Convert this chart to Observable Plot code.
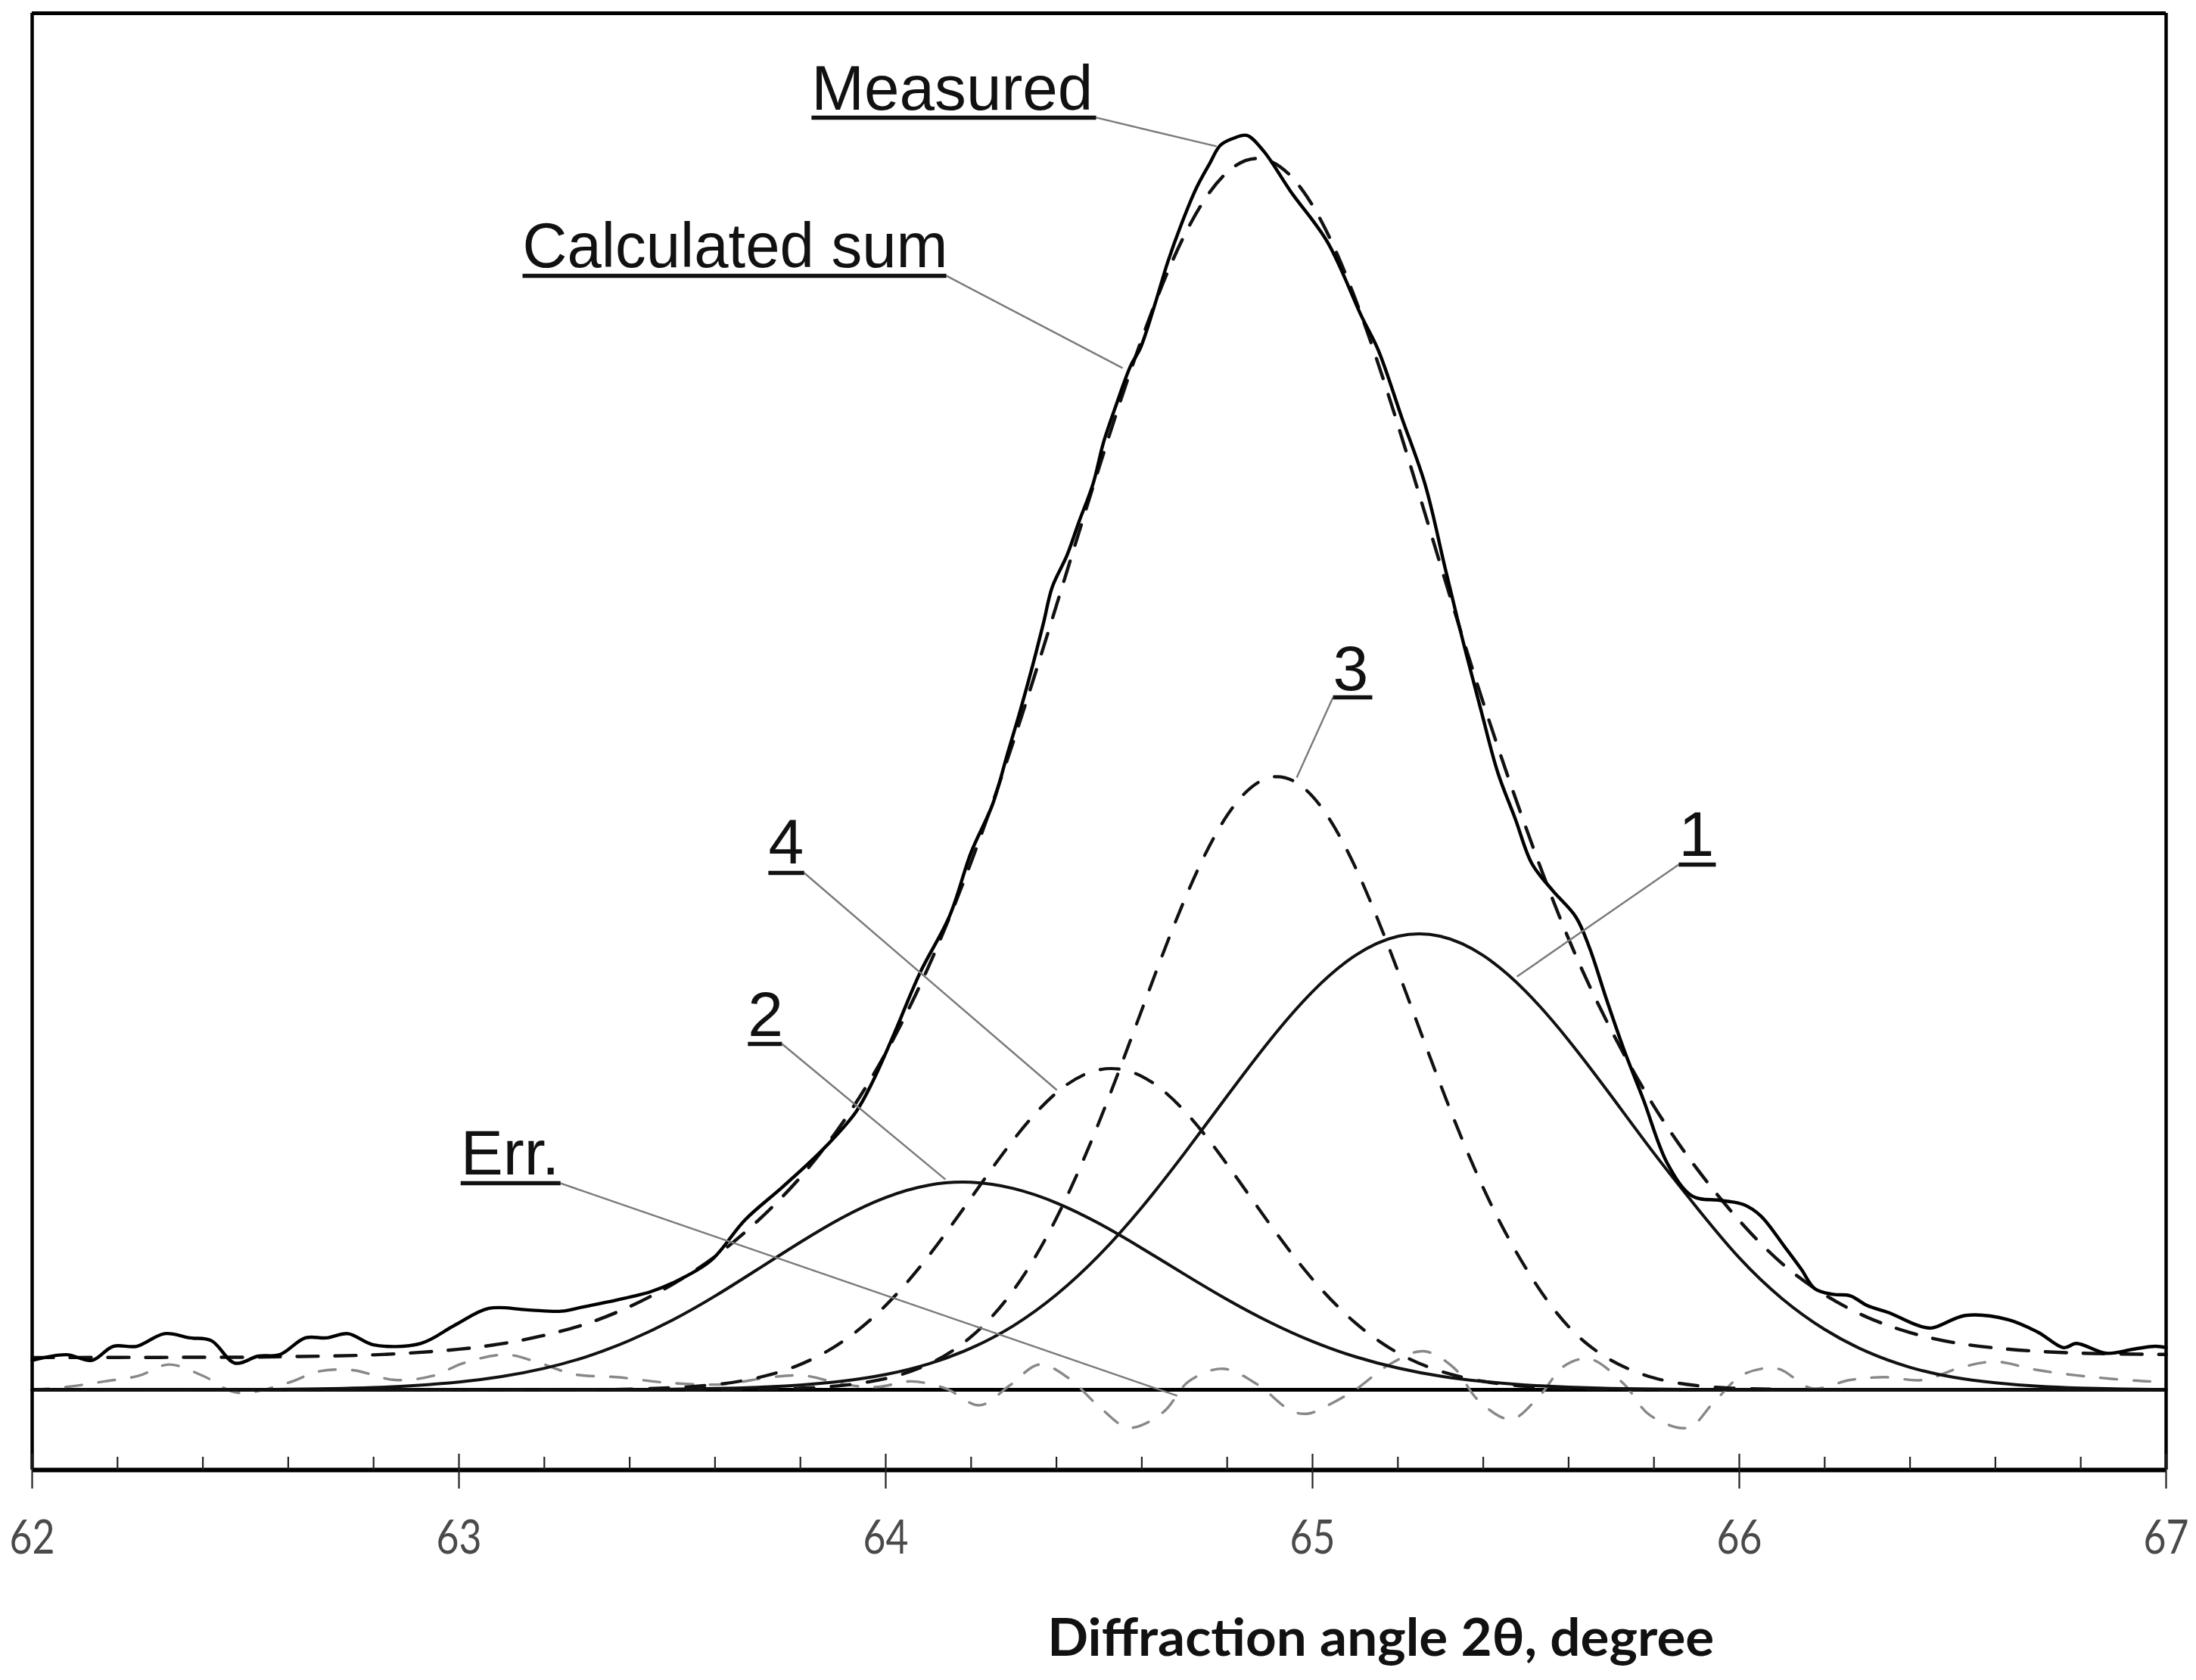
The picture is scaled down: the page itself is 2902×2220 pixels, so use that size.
<!DOCTYPE html>
<html>
<head>
<meta charset="utf-8">
<script src="https://cdn.jsdelivr.net/npm/d3@7"></script>
<script src="https://cdn.jsdelivr.net/npm/@observablehq/plot@0.6"></script>
<style>
  html, body { margin: 0; padding: 0; background: #fff; }
  #chart svg { display: block; }
</style>
</head>
<body>
<div id="chart"></div>
<script>
// ---------- data ----------
const gridX = [62.0,62.1,62.2,62.3,62.4,62.5,62.6,62.7,62.8,62.9,
               63.0,63.1,63.2,63.3,63.4,63.5,63.6,63.7,63.8,63.9,
               64.0,64.1,64.2,64.3,64.4,64.5,64.6,64.7,64.8,64.9,
               65.0,65.1,65.2,65.3,65.4,65.5,65.6,65.7,65.8,65.9,
               66.0,66.1,66.2,66.3,66.4,66.5,66.6,66.7,66.8,66.9,67.0];

const component1 = [0,0,0,0,0,0,0,0,0,0,0,0,0,0,0,
  0.04,0.09,0.18,0.34,0.62,1.09,1.84,2.97,4.58,6.78,9.59,13.0,16.86,20.94,24.91,
  28.38,30.95,32.32,32.32,30.95,28.38,24.91,20.94,16.86,13.0,9.4,6.5,4.3,2.7,1.6,
  0.9,0.5,0.25,0.12,0.05,0.02];

const component2 = [0,0,0,0,0,0,
  0.04,0.08,0.16,0.31,0.55,0.94,1.53,2.37,3.52,4.96,
  6.68,8.59,10.52,12.30,13.71,14.58,14.79,14.34,13.32,11.85,
  10.09,8.23,6.43,4.81,3.44,2.36,1.55,0.97,0.59,0.34,
  0.19,0.10,0.05,0.02,
  0,0,0,0,0,0,0,0,0,0,0];

const component3 = [0,0,0,0,0,0,0,0,0,0,0,0,0,0,0,0,0,
  0.04,0.11,0.32,0.80,1.82,3.78,7.13,12.24,19.09,27.08,34.92,40.94,43.64,
  42.29,37.26,29.84,21.73,14.39,8.66,4.5,2.1,0.85,0.3,0.1,0.03,
  0,0,0,0,0,0,0,0,0];

const component4 = [0,0,0,0,0,0,0,0,0,0,0,0,0,0,
  0.05,0.15,0.37,0.86,1.81,3.46,6.02,9.52,13.68,17.85,21.17,22.81,
  22.34,19.87,16.06,11.80,7.88,4.78,2.63,1.32,0.60,0.25,0.10,0.04,
  0,0,0,0,0,0,0,0,0,0,0,0,0];

const calculatedSum = [2.30,2.30,2.31,2.31,2.32,2.32,2.36,2.41,2.49,2.65,
  2.89,3.28,3.88,4.72,5.93,7.51,9.50,12.04,15.15,19.08,
  24.00,30.14,37.61,46.29,55.91,65.74,74.91,82.29,86.78,87.58,
  84.41,77.77,68.77,58.77,48.97,40.07,32.14,25.63,20.21,15.78,
  12.06,9.0,6.77,5.17,4.08,3.38,2.98,2.74,2.61,2.55,2.52];

const measuredX = [62.00,62.08,62.14,62.19,62.245,62.31,62.37,62.42,62.475,62.53,62.58,62.64,62.69,62.74,62.80,62.91,62.99,
  63.07,63.16,63.24,63.29,63.37,63.45,63.50,63.59,63.67,63.76,63.855,63.93,63.97,
  64.02,64.08,64.15,64.20,64.25,64.285,64.316,64.344,64.37,64.39,64.425,64.452,64.486,64.51,64.54,64.574,64.596,64.628,64.661,64.693,64.727,64.759,64.784,64.815,64.846,64.885,64.949,
  65.035,65.115,65.154,65.209,65.264,65.312,65.353,65.395,65.434,65.475,65.514,65.562,65.617,65.649,65.688,65.729,65.775,65.832,65.89,65.955,
  66.01,66.05,66.106,66.145,66.177,66.22,66.26,66.30,66.35,66.417,66.45,66.53,66.63,66.70,66.76,66.79,66.86,66.925,66.975,67.00];
const measuredY = [2.1,2.5,2.1,3.1,3.1,4.0,3.7,3.5,1.9,2.4,2.5,3.7,3.7,4.0,3.2,3.3,4.6,
  5.8,5.7,5.6,5.9,6.4,7.0,7.6,9.2,12.1,14.5,17.2,19.8,22.0,
  25.4,29.7,33.8,38.3,41.7,45.3,48.5,51.6,54.7,57.2,59.5,61.8,64.6,67.5,70.2,73.0,74.2,77.1,80.4,83.1,85.6,87.4,88.7,89.2,89.4,88.3,85.4,
  81.8,76.5,74.1,69.3,64.5,58.4,53.3,48.4,44.0,40.7,37.5,35.6,33.7,31.5,27.9,24.3,20.7,16.1,13.8,13.5,
  13.2,12.4,10.2,8.6,7.2,6.8,6.7,6.0,5.5,4.6,4.4,5.3,5.0,4.1,3.0,3.3,2.6,2.9,3.1,3.0];

const errX = [62.00,62.08,62.17,62.25,62.32,62.40,62.48,62.60,62.67,62.75,62.85,62.94,
  63.01,63.11,63.19,63.27,63.37,63.49,63.62,63.73,63.81,63.90,63.98,
  64.06,64.14,64.22,64.29,64.36,64.43,64.50,64.57,64.65,64.71,64.79,64.87,64.95,64.99,
  65.03,65.10,65.18,65.26,65.33,65.39,65.465,65.53,65.59,65.65,65.73,65.79,65.88,65.94,
  66.01,66.09,66.17,66.26,66.34,66.43,66.52,66.60,66.70,66.83,66.96,67.00];
const errY = [0.0,0.2,0.6,1.0,1.8,1.0,-0.2,0.5,1.3,1.4,0.7,1.0,
  1.9,2.5,1.9,1.1,0.9,0.5,0.4,0.9,1.0,0.4,0.2,
  0.6,0.1,-1.1,0.3,1.8,0.8,-1.2,-2.7,-1.6,0.6,1.5,0.4,-1.5,-1.7,
  -1.2,0.0,1.8,2.75,1.6,-0.8,-2.1,-0.5,1.7,2.2,0.4,-1.8,-2.7,-0.9,
  1.1,1.5,0.1,0.7,0.9,0.7,1.6,2.0,1.4,0.9,0.6,0.6];

const majorTicks = [62, 63, 64, 65, 66, 67];
const minorTicks = [62.2,62.4,62.6,62.8,63.2,63.4,63.6,63.8,64.2,64.4,64.6,64.8,
                    65.2,65.4,65.6,65.8,66.2,66.4,66.6,66.8];

// annotation labels (text, baseline position, underline extent, leader to curve)
const labelText = ["Measured", "Calculated sum", "3", "1", "4", "2", "Err."];
const labelX    = [63.826, 63.149, 65.048, 65.858, 63.725, 63.677, 63.004];
const labelY    = [91.26, 80.04, 49.84, 38.03, 37.49, 25.24, 15.37];
const underX2   = [64.493, 64.142, 65.140, 65.945, 63.809, 63.757, 63.238];
const underY    = [90.67, 79.40, 49.35, 37.43, 36.84, 24.65, 14.72];
const leaderX1  = [64.493, 64.142, 65.048, 65.858, 63.809, 63.757, 63.238];
const leaderX2  = [64.775, 64.555, 64.963, 65.479, 64.401, 64.140, 64.683];
const leaderY2  = [88.62, 72.82, 43.64, 29.45, 21.36, 14.99, -0.43];

const axisTitle = "Diffraction angle 2θ, degree";
const axisTitleX = 65.16;

// ---------- layout ----------
const W = 2902, H = 2220;
const mL = 42, mR = 40, mT = 17, mB = 278;
const yMin = -5.717, yMax = 98.11;
const pxPerUnit = (H - mT - mB) / (yMax - yMin);

const comps = gridX.map((x, i) => ({x, c1: component1[i], c2: component2[i], c3: component3[i], c4: component4[i], sum: calculatedSum[i]}));
const measured = measuredX.map((x, i) => ({x, y: measuredY[i]}));
const err = errX.map((x, i) => ({x, y: errY[i]}));
const labels = labelText.map((t, i) => ({t, x: labelX[i], y: labelY[i], ux2: underX2[i], uy: underY[i],
  lx1: leaderX1[i], ly1: underY[i], lx2: leaderX2[i], ly2: leaderY2[i]}));

const labelFont = "'Liberation Sans', Arial, sans-serif";
const tickFont = "Lato, 'Liberation Sans Narrow', 'DejaVu Sans Condensed', sans-serif";

const chart = Plot.plot({
  width: W, height: H,
  marginLeft: mL, marginRight: mR, marginTop: mT, marginBottom: mB,
  x: {domain: [62, 67], axis: null},
  y: {domain: [yMin, yMax], axis: null},
  style: {background: "#fff", fontFamily: labelFont, overflow: "visible"},
  marks: [
    // zero line
    Plot.ruleY([0], {stroke: "#000", strokeWidth: 5}),
    // error curve
    Plot.line(err, {x: "x", y: "y", curve: "catmull-rom", stroke: "#888", strokeWidth: 3.4, strokeDasharray: "22,22"}),
    // components
    Plot.line(comps, {x: "x", y: "c1", curve: "natural", stroke: "#111", strokeWidth: 4}),
    Plot.line(comps, {x: "x", y: "c2", curve: "natural", stroke: "#111", strokeWidth: 4}),
    Plot.line(comps, {x: "x", y: "c3", curve: "natural", stroke: "#111", strokeWidth: 4.2, strokeDasharray: "25,23"}),
    Plot.line(comps, {x: "x", y: "c4", curve: "natural", stroke: "#111", strokeWidth: 4.2, strokeDasharray: "25,23"}),
    // calculated sum
    Plot.line(comps, {x: "x", y: "sum", curve: "natural", stroke: "#111", strokeWidth: 4.4, strokeDasharray: "28,22"}),
    // measured
    Plot.line(measured, {x: "x", y: "y", curve: "catmull-rom", stroke: "#000", strokeWidth: 4.4}),
    // leaders
    Plot.link(labels, {x1: "lx1", y1: "ly1", x2: "lx2", y2: "ly2", stroke: "#7a7a7a", strokeWidth: 2.4}),
    // underlines
    Plot.link(labels, {x1: "x", y1: "uy", x2: "ux2", y2: "uy", stroke: "#111", strokeWidth: 5.5}),
    // label texts
    Plot.text(labels, {x: "x", y: "y", text: "t", textAnchor: "start", lineAnchor: "bottom",
      fontSize: 84, fill: "#111", fontFamily: labelFont}),
    // frame
    Plot.ruleY([yMax], {stroke: "#000", strokeWidth: 5}),
    Plot.ruleX([62, 67], {stroke: "#000", strokeWidth: 4.5}),
    Plot.ruleY([yMin], {stroke: "#000", strokeWidth: 6}),
    // ticks
    Plot.ruleX(minorTicks, {x: d => d, y1: yMin, y2: yMin + 17 / pxPerUnit, stroke: "#222", strokeWidth: 2.2}),
    Plot.ruleX(majorTicks, {x: d => d, y1: yMin - 25 / pxPerUnit, y2: yMin + 21 / pxPerUnit, stroke: "#222", strokeWidth: 2.2}),
    Plot.text(majorTicks, {x: d => d, y: yMin, dy: 110, text: d => String(d), lineAnchor: "bottom",
      textAnchor: "middle", fontSize: 62, fontWeight: 400, fill: "#4a4a4a", fontFamily: tickFont}),
    // axis title
    Plot.text([axisTitle], {x: axisTitleX, y: yMin, dy: 245, text: d => d, lineAnchor: "bottom",
      textAnchor: "middle", fontSize: 68, fontWeight: "bold", fill: "#111",
      fontFamily: "Lato, 'Open Sans', 'Noto Sans', sans-serif"})
  ]
});

// fine-tune text widths to the reference
const targetLengths = {"Calculated sum": 562, "Measured": 372};
targetLengths[axisTitle] = 881;
majorTicks.forEach(t => { targetLengths[String(t)] = 60; });
d3.select(chart).selectAll("text").each(function() {
  const L = targetLengths[this.textContent];
  if (L) {
    this.setAttribute("textLength", L);
    this.setAttribute("lengthAdjust", "spacingAndGlyphs");
  }
});

document.getElementById("chart").appendChild(chart);
</script>
</body>
</html>
